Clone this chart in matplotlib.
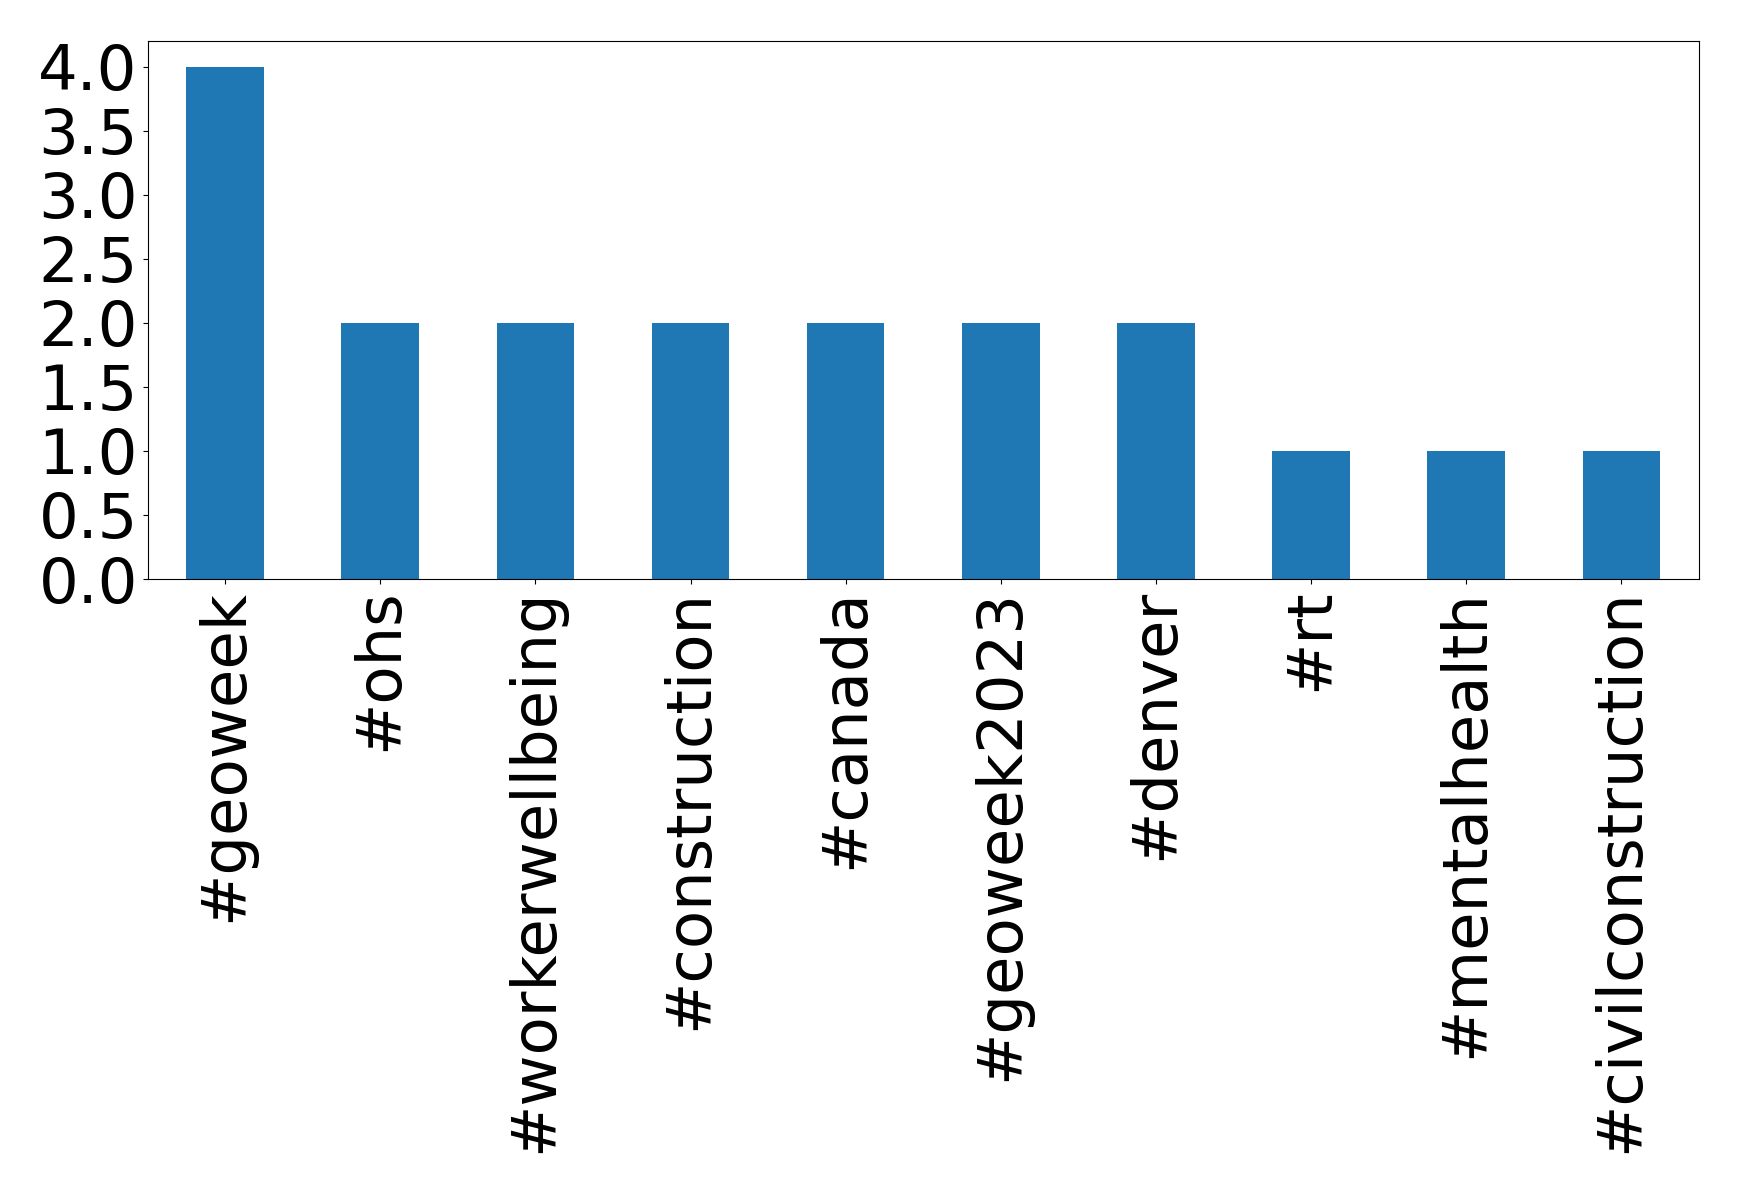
import matplotlib
matplotlib.use("Agg")
import matplotlib.pyplot as plt
import pandas as pd

hashtags = ["#geoweek", "#ohs", "#workerwellbeing", "#construction", "#canada",
            "#geoweek2023", "#denver", "#rt", "#mentalhealth", "#civilconstruction"]
counts = [4, 2, 2, 2, 2, 2, 2, 1, 1, 1]

fig = plt.figure(figsize=(17.39, 11.93), dpi=100)
ax = fig.add_axes([147.5 / 1739, 1 - 579 / 1193, (1699 - 147.5) / 1739, (579 - 41) / 1193])
pd.Series(counts, index=hashtags).plot(kind="bar", ax=ax, color="#1f77b4")
ax.tick_params(axis="both", labelsize=45)
ax.set_yticks([0.0, 0.5, 1.0, 1.5, 2.0, 2.5, 3.0, 3.5, 4.0])
fig.savefig("out.png", dpi=100)
